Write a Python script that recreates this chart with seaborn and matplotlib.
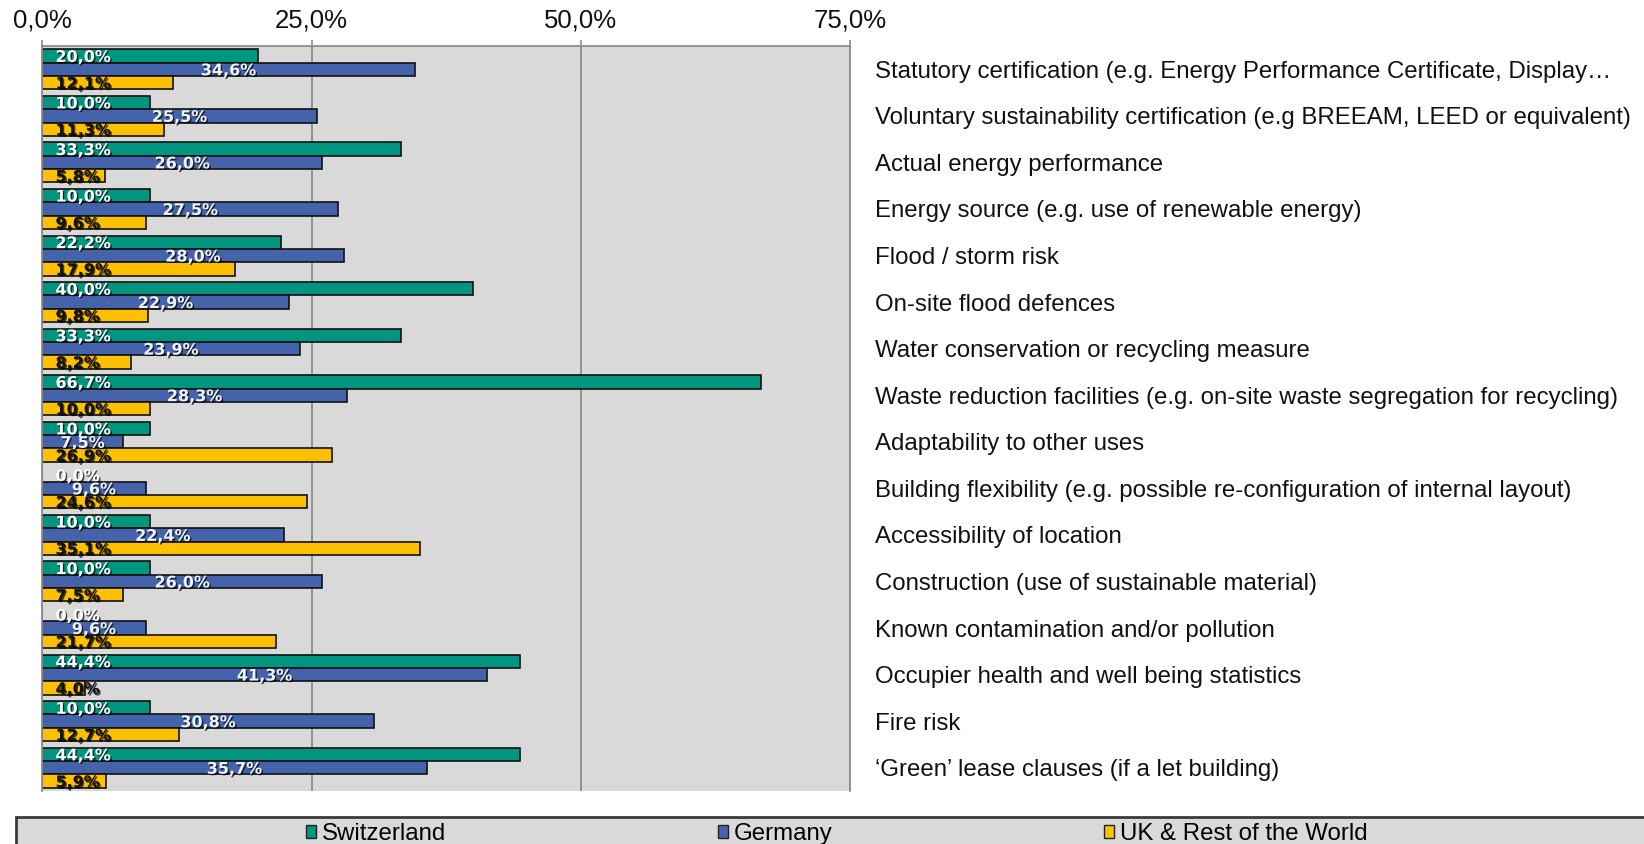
import matplotlib
matplotlib.use("Agg")
import matplotlib.pyplot as plt
import matplotlib.patheffects as pe
from matplotlib.patches import Rectangle, Patch
import seaborn as sns
import pandas as pd

categories = [
    "Statutory certification (e.g. Energy Performance Certificate, Display…",
    "Voluntary sustainability certification (e.g BREEAM, LEED or equivalent)",
    "Actual energy performance",
    "Energy source (e.g. use of renewable energy)",
    "Flood / storm risk",
    "On-site flood defences",
    "Water conservation or recycling measure",
    "Waste reduction facilities (e.g. on-site waste segregation for recycling)",
    "Adaptability to other uses",
    "Building flexibility (e.g. possible re-configuration of internal layout)",
    "Accessibility of location",
    "Construction (use of sustainable material)",
    "Known contamination and/or pollution",
    "Occupier health and well being statistics",
    "Fire risk",
    "\u2018Green\u2019 lease clauses (if a let building)",
]
switzerland = [20.0, 10.0, 33.3, 10.0, 22.2, 40.0, 33.3, 66.7, 10.0, 0.0, 10.0, 10.0, 0.0, 44.4, 10.0, 44.4]
germany = [34.6, 25.5, 26.0, 27.5, 28.0, 22.9, 23.9, 28.3, 7.5, 9.6, 22.4, 26.0, 9.6, 41.3, 30.8, 35.7]
uk_rest = [12.1, 11.3, 5.8, 9.6, 17.9, 9.8, 8.2, 10.0, 26.9, 24.6, 35.1, 7.5, 21.7, 4.0, 12.7, 5.9]
series_names = ["Switzerland", "Germany", "UK & Rest of the World"]
x_ticks = [0, 25, 50, 75]
x_tick_labels = ["0,0%", "25,0%", "50,0%", "75,0%"]

colors = ["#00957F", "#4563AA", "#FFC000"]
series_values = [switzerland, germany, uk_rest]

rows = []
for name, vals in zip(series_names, series_values):
    for cat, v in zip(categories, vals):
        rows.append({"category": cat, "value": v, "series": name})
df = pd.DataFrame(rows)

TEXT_FONT = "Liberation Sans"
W, H = 1644, 844
fig = plt.figure(figsize=(W / 100, H / 100), dpi=100)
ax = fig.add_axes([42.3 / W, 1 - 791 / H, (850 - 42.3) / W, (791 - 46) / H])
ax.set_facecolor("#D9D9D9")

sns.barplot(
    data=df, y="category", x="value", hue="series",
    order=categories, hue_order=series_names,
    palette=colors, orient="h", width=0.86, saturation=1,
    edgecolor="#111111", linewidth=1.2, legend=False, ax=ax,
)

ax.set_xlim(0, 75)
ax.set_xlabel("")
ax.set_ylabel("")
ax.set_xticks(x_ticks)
ax.set_xticklabels(x_tick_labels, fontfamily=TEXT_FONT, fontsize=18.5, color="#111111")
ax.xaxis.tick_top()
ax.tick_params(axis="x", length=4, width=1.2, color="#8C8C8C", pad=6)
ax.yaxis.tick_right()
ax.tick_params(axis="y", length=0, pad=18)
for lbl in ax.get_yticklabels():
    lbl.set_fontfamily(TEXT_FONT)
    lbl.set_fontsize(17.3)
    lbl.set_color("#111111")

ax.xaxis.grid(True, color="#8C8C8C", linewidth=1.3)
ax.yaxis.grid(False)
ax.set_axisbelow(True)
for side in ["top", "left", "right"]:
    ax.spines[side].set_color("#8C8C8C")
    ax.spines[side].set_linewidth(1.3)
ax.spines["bottom"].set_visible(False)

# value labels: first and last series anchored at the bar base, middle series centred
shadow = [pe.SimplePatchShadow(offset=(1, -1), shadow_rgbFace="#000000", alpha=0.7), pe.Normal()]
label_colors = ["white", "#EEF2FA", "#111111"]
for idx, (container, vals) in enumerate(zip(ax.containers, series_values)):
    for bar, v in zip(container, vals):
        yc = bar.get_y() + bar.get_height() / 2
        txt = f"{v:.1f}%".replace(".", ",")
        if idx == 1:
            ax.text(v / 2, yc, txt, ha="center", va="center_baseline",
                    fontfamily="DejaVu Sans", fontweight="bold", fontsize=11.5,
                    color=label_colors[idx], path_effects=shadow)
        else:
            ax.annotate(txt, xy=(0, yc), xytext=(9.5, 0), textcoords="offset points",
                        ha="left", va="center_baseline",
                        fontfamily="DejaVu Sans", fontweight="bold", fontsize=11.5,
                        color=label_colors[idx], path_effects=shadow)

# legend strip along the bottom
fig.add_artist(Rectangle((16 / W, -0.02), 1.1, (H - 817) / H + 0.02, transform=fig.transFigure,
                         facecolor="#D9D9D9", edgecolor="#3A3A3A", linewidth=2,
                         clip_on=False, zorder=1))
handles = [Patch(facecolor=c, edgecolor="#222222", linewidth=1) for c in colors]
fig.legend(handles, series_names, loc="center", bbox_to_anchor=(0.509, 0.0115),
           ncol=3, frameon=False, prop={"family": TEXT_FONT, "size": 17.3},
           handlelength=0.42, handleheight=0.42, handletextpad=0.25,
           columnspacing=11.3, borderpad=0)

fig.savefig("out.png", dpi=100)
